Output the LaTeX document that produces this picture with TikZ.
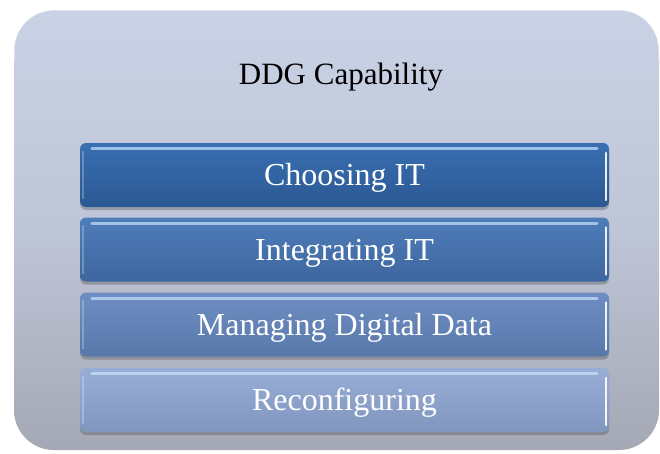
\documentclass[tikz,border=0pt]{standalone}
\usepackage{fontspec}
\setmainfont{Liberation Serif}
\usetikzlibrary{shadows}
\definecolor{outtop}{HTML}{C9D2E5}
\definecolor{outbot}{HTML}{A5A8B5}
\definecolor{aTop}{HTML}{3A6FB2}
\definecolor{aBot}{HTML}{2A5892}
\definecolor{bTop}{HTML}{4E7DBA}
\definecolor{bBot}{HTML}{3E669E}
\definecolor{cTop}{HTML}{6E8EC3}
\definecolor{cBot}{HTML}{5978AA}
\definecolor{dTop}{HTML}{98AED6}
\definecolor{dBot}{HTML}{8096BF}
\definecolor{glowc}{HTML}{C8E4FF}
\tikzset{
  barbox/.style={rectangle, rounded corners=6pt, minimum width=529pt, minimum height=64pt,
    inner sep=0pt, text=white, font=\fontsize{32}{36}\selectfont, text height=21pt, text depth=0pt,
    drop shadow={shadow xshift=0pt, shadow yshift=-3pt, opacity=0.35, fill=black!70}},
  glow/.style={line width=3pt, line cap=round, color=glowc, opacity=0.7},
  edge/.style={line width=2pt, line cap=round, color=white, opacity=0.9}
}
\begin{document}
\begin{tikzpicture}[x=1pt,y=-1pt]
\useasboundingbox (0,0) rectangle (660,453);
\path[rounded corners=40pt, top color=outtop, bottom color=outbot, middle color=outtop!70!outbot]
  (14,10) rectangle (659,450);
\draw[white, opacity=0.6, line width=1.2pt, rounded corners=40pt] (14,60) -- (14,10) -- (659,10) -- (659,60);
\node[font=\fontsize{31}{36}\selectfont, text=black, text height=20.5pt, text depth=0pt] (title) at (341,74) {DDG Capability};
\node[barbox, top color=aTop, bottom color=aBot] (b1) at (344.5,175) {Choosing IT};
\node[barbox, top color=bTop, bottom color=bBot] (b2) at (344.5,249.5) {Integrating IT};
\node[barbox, top color=cTop, bottom color=cBot] (b3) at (344.5,324.5) {Managing Digital Data};
\node[barbox, top color=dTop, bottom color=dBot] (b4) at (344.5,400) {Reconfiguring};
\foreach \n in {b1,b2,b3,b4}{
  \draw[glow] ([xshift=12pt,yshift=-6pt]\n.north west) -- ([xshift=-12pt,yshift=-6pt]\n.north east);
  \draw[edge] ([xshift=-3pt,yshift=-10pt]\n.north east) -- ([xshift=-3pt,yshift=7pt]\n.south east);
  \draw[white, opacity=0.25, line width=1.5pt] ([xshift=3pt,yshift=-8pt]\n.north west) -- ([xshift=3pt,yshift=8pt]\n.south west);
}
\end{tikzpicture}
\end{document}
